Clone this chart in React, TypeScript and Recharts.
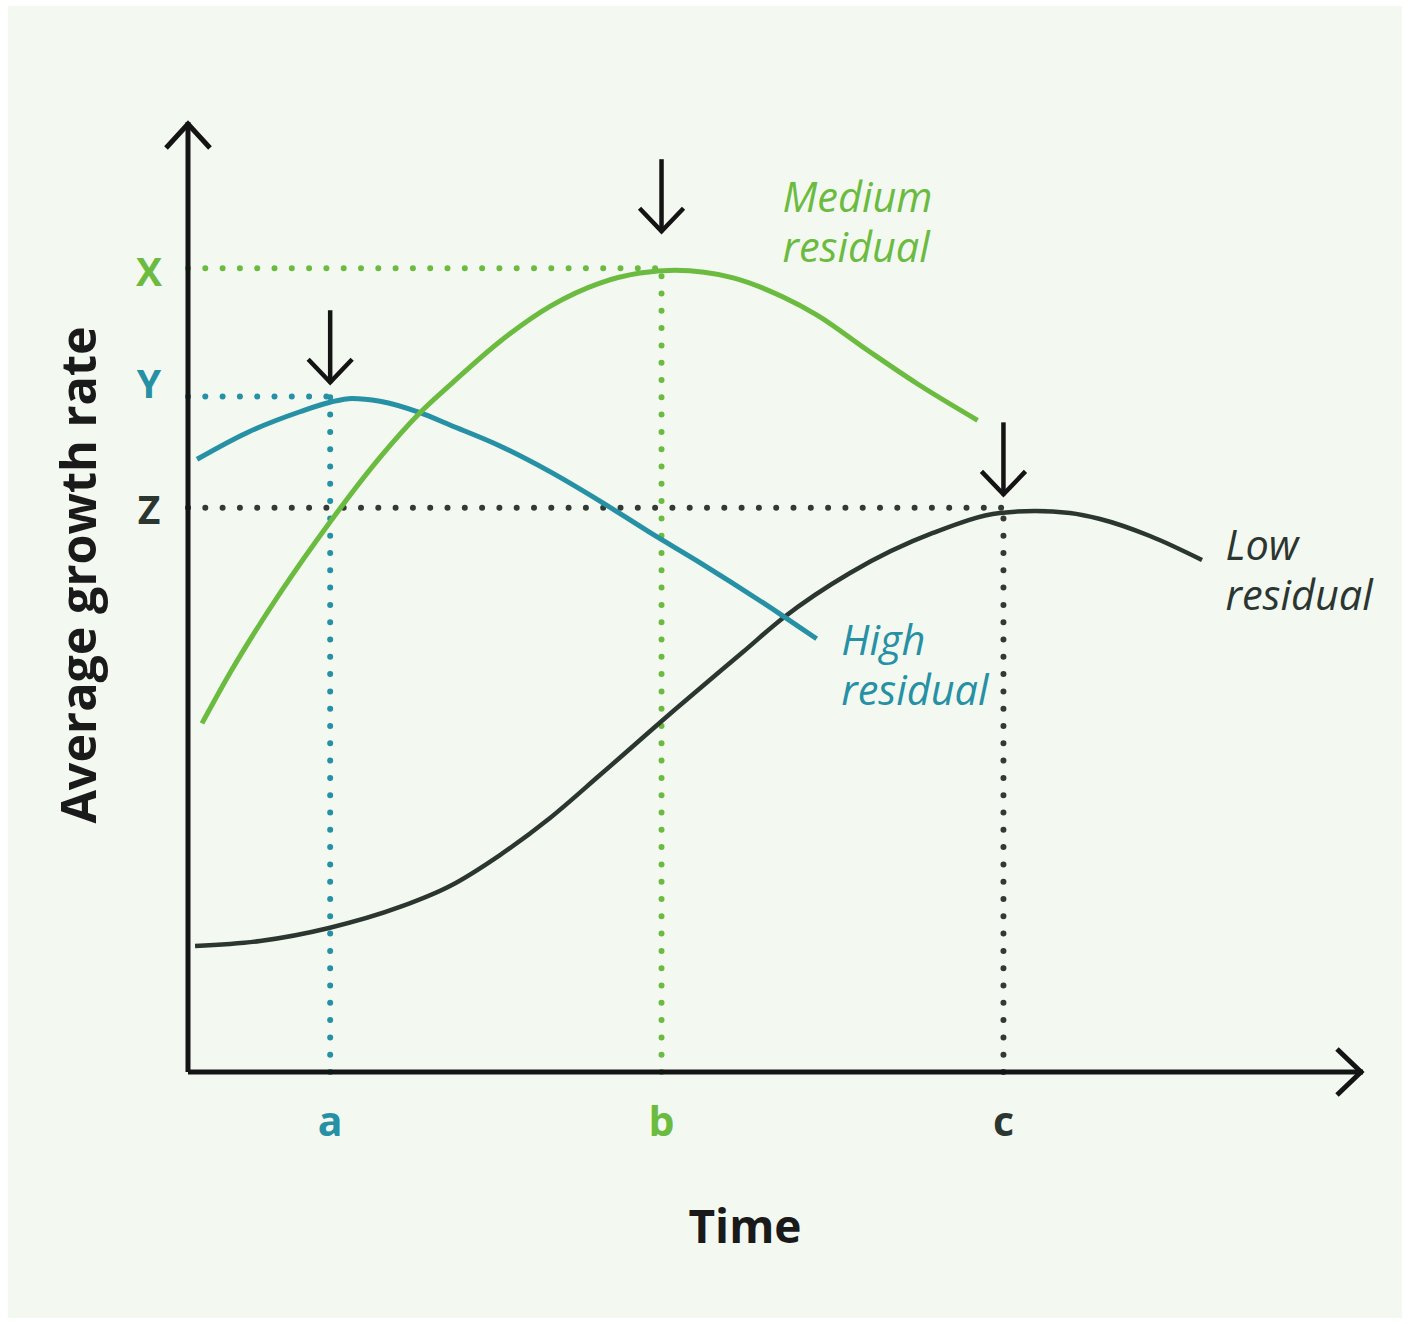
import React from 'react';
import { LineChart, Line, XAxis, YAxis, ReferenceLine, ReferenceDot, Label } from 'recharts';

// ---- data (time axis 0..100, growth-rate axis 0..100) ----
const timeLetters = ['a', 'b', 'c'];
const timeMarks = [12.1, 40.3, 69.4];
const rateLetters = ['Z', 'Y', 'X'];
const rateMarks = [59.4, 71.1, 84.6];

const highResidual = [
  { t: 0.77, v: 64.5 }, { t: 5.02, v: 67.3 }, { t: 9.53, v: 69.5 }, { t: 12.09, v: 70.5 },
  { t: 13.96, v: 70.9 }, { t: 16.34, v: 70.6 }, { t: 19.74, v: 69.4 }, { t: 22.3, v: 68.1 },
  { t: 26.55, v: 65.9 }, { t: 30.8, v: 63.2 }, { t: 35.06, v: 60.1 }, { t: 39.3, v: 56.8 },
  { t: 43.6, v: 53.6 }, { t: 50.4, v: 48.2 }, { t: 53.5, v: 45.6 },
];
const mediumResidual = [
  { t: 1.19, v: 36.7 }, { t: 3.57, v: 42.0 }, { t: 7.83, v: 50.4 }, { t: 12.09, v: 57.9 },
  { t: 16.34, v: 64.7 }, { t: 19.74, v: 69.4 }, { t: 22.55, v: 72.6 }, { t: 26.55, v: 76.9 },
  { t: 30.81, v: 80.6 }, { t: 35.06, v: 83.05 }, { t: 38.47, v: 84.1 }, { t: 41.45, v: 84.4 },
  { t: 46.4, v: 83.6 }, { t: 50.6, v: 81.6 }, { t: 53.5, v: 79.7 }, { t: 57.8, v: 76.0 },
  { t: 62.0, v: 72.5 }, { t: 67.2, v: 68.6 },
];
const lowResidual = [
  { t: 0.6, v: 13.26 }, { t: 6.13, v: 13.79 }, { t: 12.0, v: 15.16 }, { t: 18.04, v: 17.37 },
  { t: 22.3, v: 19.58 }, { t: 26.55, v: 22.84 }, { t: 30.81, v: 26.74 }, { t: 35.06, v: 31.26 },
  { t: 41.7, v: 38.42 }, { t: 47.23, v: 44.21 }, { t: 50.64, v: 47.79 }, { t: 56.34, v: 52.53 },
  { t: 63.4, v: 56.74 }, { t: 69.1, v: 58.84 }, { t: 72.09, v: 59.05 }, { t: 75.06, v: 58.84 },
  { t: 77.62, v: 58.21 }, { t: 81.87, v: 56.42 }, { t: 86.3, v: 53.89 },
];
const arrowTips = [72.5, 88.4, 60.7];
const seriesNames = [['High', 'residual'], ['Medium', 'residual'], ['Low', 'residual']];
const seriesAnchors = [
  { t: 55.6, v: 43.9 },
  { t: 50.6, v: 90.5 },
  { t: 88.3, v: 53.9 },
];

// ---- styles ----
const GREEN = '#6bbb41';
const TEAL = '#2690a5';
const DARK = '#2c3631';
const AXIS = '#141414';
const FONT = '"Open Sans", "Noto Sans", sans-serif';
const timeColors = [TEAL, GREEN, DARK];
const rateColors = [DARK, TEAL, GREEN];
const rateNudge = [1, -14, 2];
const seriesColors = [TEAL, GREEN, DARK];

const XTick = (props: any) => {
  const { x, y, payload } = props;
  const i = timeMarks.indexOf(payload.value);
  if (i < 0) return null;
  return (
    <text x={x} y={y} dy={64} textAnchor="middle" fill={timeColors[i]} fontSize={41}
      fontWeight={700} fontFamily={FONT}>{timeLetters[i]}</text>
  );
};

const YTick = (props: any) => {
  const { x, y, payload } = props;
  const i = rateMarks.indexOf(payload.value);
  if (i < 0) return null;
  return (
    <text x={x - 39} y={y + rateNudge[i]} textAnchor="middle" dominantBaseline="central"
      fill={rateColors[i]} fontSize={39} fontWeight={700} fontFamily={FONT}>{rateLetters[i]}</text>
  );
};

const DownArrow = (p: any) => {
  const { cx, cy } = p;
  return (
    <g stroke={AXIS} strokeWidth={4.5} fill="none">
      <line x1={cx} y1={cy - 73} x2={cx} y2={cy} />
      <polyline points={`${cx - 22},${cy - 24} ${cx},${cy - 1} ${cx + 22},${cy - 24}`} />
    </g>
  );
};

const UpHead = (p: any) => {
  const { cx, cy } = p;
  return (
    <polyline points={`${cx - 22},${cy + 26} ${cx},${cy + 2} ${cx + 22},${cy + 26}`}
      stroke={AXIS} strokeWidth={5} fill="none" />
  );
};

const RightHead = (p: any) => {
  const { cx, cy } = p;
  return (
    <polyline points={`${cx - 26},${cy - 23} ${cx - 2},${cy} ${cx - 26},${cy + 23}`}
      stroke={AXIS} strokeWidth={5} fill="none" />
  );
};

const makeSeriesLabel = (i: number) => (p: any) => {
  const { cx, cy } = p;
  return (
    <text x={cx} y={cy} fill={seriesColors[i]} fontSize={41.5} fontStyle="italic"
      fontFamily={FONT}>
      <tspan x={cx} y={cy}>{seriesNames[i][0]}</tspan>
      <tspan x={cx} y={cy + 50}>{seriesNames[i][1]}</tspan>
    </text>
  );
};

const dotted = { strokeDasharray: '0 17.3', strokeLinecap: 'round' as const, strokeWidth: 6 };

export default function App() {
  return (
    <div style={{ position: 'absolute', left: 0, top: 0, width: 1408, height: 1324, background: '#ffffff' }}>
      <div style={{ position: 'absolute', left: 8, top: 6, width: 1394, height: 1312, background: '#f3f8f0' }} />
      <div style={{ position: 'absolute', left: 0, top: 0 }}>
        <LineChart width={1408} height={1324} margin={{ top: 122, right: 45, bottom: 172, left: 108 }}>
          <XAxis dataKey="t" type="number" domain={[0, 100]} ticks={timeMarks} interval={0}
            tick={<XTick />} tickLine={false} tickSize={0} tickMargin={0} height={80}
            axisLine={{ stroke: AXIS, strokeWidth: 5 }} allowDataOverflow>
            <Label content={(lp: any) => {
              const vb = lp.viewBox || { x: 188, y: 1072 };
              return (
                <text x={vb.x + 557} y={vb.y + 171} textAnchor="middle" fill="#1a1a1a"
                  fontSize={46} fontWeight={700} fontFamily={FONT}>Time</text>
              );
            }} />
          </XAxis>
          <YAxis dataKey="v" type="number" domain={[0, 100]} ticks={rateMarks} interval={0}
            tick={<YTick />} tickLine={false} tickSize={0} tickMargin={0} width={80}
            axisLine={{ stroke: AXIS, strokeWidth: 5 }} allowDataOverflow>
            <Label content={(lp: any) => {
              const vb = lp.viewBox || { x: 108, y: 122 };
              const x = vb.x - 31;
              const y = vb.y + 453;
              return (
                <text x={x} y={y} transform={`rotate(-90 ${x} ${y})`} textAnchor="middle"
                  dominantBaseline="central" fill="#1a1a1a" fontSize={48.5} fontWeight={700}
                  fontFamily={FONT}>Average growth rate</text>
              );
            }} />
          </YAxis>

          <ReferenceLine segment={[{ x: 0, y: rateMarks[1] }, { x: timeMarks[0], y: rateMarks[1] }]}
            stroke={TEAL} {...dotted} ifOverflow="visible" />
          <ReferenceLine segment={[{ x: timeMarks[0], y: 0 }, { x: timeMarks[0], y: rateMarks[1] }]}
            stroke={TEAL} {...dotted} ifOverflow="visible" />
          <ReferenceLine segment={[{ x: 0, y: rateMarks[2] }, { x: timeMarks[1], y: rateMarks[2] }]}
            stroke={GREEN} {...dotted} ifOverflow="visible" />
          <ReferenceLine segment={[{ x: timeMarks[1], y: 0 }, { x: timeMarks[1], y: rateMarks[2] }]}
            stroke={GREEN} {...dotted} ifOverflow="visible" />
          <ReferenceLine segment={[{ x: 0, y: rateMarks[0] }, { x: timeMarks[2], y: rateMarks[0] }]}
            stroke="#333a36" {...dotted} ifOverflow="visible" />
          <ReferenceLine segment={[{ x: timeMarks[2], y: 0 }, { x: timeMarks[2], y: rateMarks[0] }]}
            stroke="#333a36" {...dotted} ifOverflow="visible" />

          <Line data={lowResidual} dataKey="v" type="monotone" stroke={DARK} strokeWidth={4.5}
            dot={false} activeDot={false} isAnimationActive={false} />
          <Line data={highResidual} dataKey="v" type="monotone" stroke={TEAL} strokeWidth={5}
            dot={false} activeDot={false} isAnimationActive={false} />
          <Line data={mediumResidual} dataKey="v" type="monotone" stroke={GREEN} strokeWidth={5}
            dot={false} activeDot={false} isAnimationActive={false} />

          {timeMarks.map((t, i) => (
            <ReferenceDot key={'arr' + i} x={t} y={arrowTips[i]} r={0} ifOverflow="visible"
              shape={(p: any) => <DownArrow {...p} />} />
          ))}
          {seriesAnchors.map((a, i) => (
            <ReferenceDot key={'lbl' + i} x={a.t} y={a.v} r={0} ifOverflow="visible"
              shape={makeSeriesLabel(i)} />
          ))}
          <ReferenceDot x={0} y={100} r={0} ifOverflow="visible" shape={(p: any) => <UpHead {...p} />} />
          <ReferenceDot x={100} y={0} r={0} ifOverflow="visible" shape={(p: any) => <RightHead {...p} />} />
        </LineChart>
      </div>
    </div>
  );
}
